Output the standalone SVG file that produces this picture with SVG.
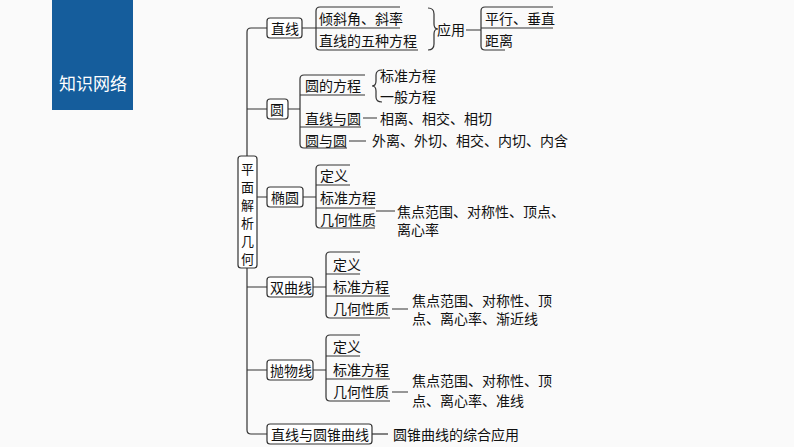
<svg xmlns="http://www.w3.org/2000/svg" width="794" height="447" viewBox="0 0 794 447">
<style>
text{font-family:"Noto Sans CJK SC","Liberation Serif",serif;font-size:14px;fill:#111;dominant-baseline:central}
.v{font-size:13px;text-anchor:middle}
.w{fill:#fff;font-size:17px;font-family:"Noto Sans CJK SC",sans-serif}
.l{fill:none;stroke:#333;stroke-width:1.2}
.b{fill:#fff;stroke:#333;stroke-width:1.2}
</style>
<rect width="794" height="447" fill="#fafafa"/>
<g id="title"><rect x="52" y="0" width="81" height="110" fill="#155d9c"/><text class="w" x="59" y="82">知识网络</text></g>
<g id="connectors" class="l">
<path d="M267 28H251Q247 28 247 32V430Q247 434 251 434H267"/>
<path d="M247 109H267M247 197H267M247 287H267M247 370H267"/>
<path d="M302 28H316M400 7H320Q316 7 316 11V46Q316 50 320 50H418M316 28H400"/>
<path d="M428 8Q434 8 434 14V24Q434 29 438 29Q434 29 434 34V44Q434 50 428 50"/>
<path d="M466 30H481M553 7H485Q481 7 481 11V46Q481 50 485 50H505M481 28H553"/>
<path d="M288 109H300M365 75H304Q300 75 300 79V144Q300 148 304 148H347M300 95H365M300 127H361"/>
<path d="M382 70Q376 70 376 75V81Q376 86 372 86Q376 86 376 91V97Q376 102 382 102"/>
<path d="M363 118H377M349 141H366"/>
<path d="M303 197H316M350 165H320Q316 165 316 169V224Q316 228 320 228H375M316 185H350M316 208H375M376 211H395"/>
<path d="M313 287H326M360 252H330Q326 252 326 256V314Q326 318 330 318H390M326 274H360M326 296H390M392 309H408"/>
<path d="M313 370H326M360 335H330Q326 335 326 339V397Q326 401 330 401H390M326 356H360M326 379H390M392 392H408"/>
<path d="M372 434H388"/>
</g>
<g id="root"><rect class="b" x="238" y="156" width="19" height="112" rx="3"/>
<text class="v" x="247.5" y="168">平</text><text class="v" x="247.5" y="186">面</text><text class="v" x="247.5" y="204">解</text><text class="v" x="247.5" y="222">析</text><text class="v" x="247.5" y="240">几</text><text class="v" x="247.5" y="258">何</text></g>
<g id="n-line"><rect class="b" x="267" y="18" width="35" height="20" rx="3"/><text x="271" y="28">直线</text>
<text x="319" y="18">倾斜角、斜率</text><text x="319" y="40">直线的五种方程</text><text x="437" y="29">应用</text>
<text x="485" y="18">平行、垂直</text><text x="485" y="40">距离</text></g>
<g id="n-circle"><rect class="b" x="267" y="99" width="21" height="20" rx="3"/><text x="270" y="109">圆</text>
<text x="305" y="85">圆的方程</text><text x="380" y="75">标准方程</text><text x="380" y="96">一般方程</text>
<text x="305" y="118">直线与圆</text><text x="380" y="118">相离、相交、相切</text>
<text x="305" y="140">圆与圆</text><text x="372" y="140">外离、外切、相交、内切、内含</text></g>
<g id="n-ellipse"><rect class="b" x="267" y="187" width="36" height="20" rx="3"/><text x="271" y="197">椭圆</text>
<text x="320" y="175">定义</text><text x="320" y="197">标准方程</text><text x="320" y="219">几何性质</text>
<text x="397" y="211">焦点范围、对称性、顶点、</text><text x="397" y="229">离心率</text></g>
<g id="n-hyper"><rect class="b" x="267" y="277" width="46" height="20" rx="3"/><text x="270" y="287">双曲线</text>
<text x="333" y="264">定义</text><text x="333" y="286">标准方程</text><text x="333" y="308">几何性质</text>
<text x="412" y="300">焦点范围、对称性、顶</text><text x="412" y="318">点、离心率、渐近线</text></g>
<g id="n-para"><rect class="b" x="267" y="360" width="46" height="20" rx="3"/><text x="270" y="370">抛物线</text>
<text x="333" y="346">定义</text><text x="333" y="369">标准方程</text><text x="333" y="391">几何性质</text>
<text x="412" y="380">焦点范围、对称性、顶</text><text x="412" y="400">点、离心率、准线</text></g>
<g id="n-conic"><rect class="b" x="267" y="424" width="105" height="20" rx="3"/><text x="271" y="434">直线与圆锥曲线</text>
<text x="393" y="434">圆锥曲线的综合应用</text></g>
</svg>
